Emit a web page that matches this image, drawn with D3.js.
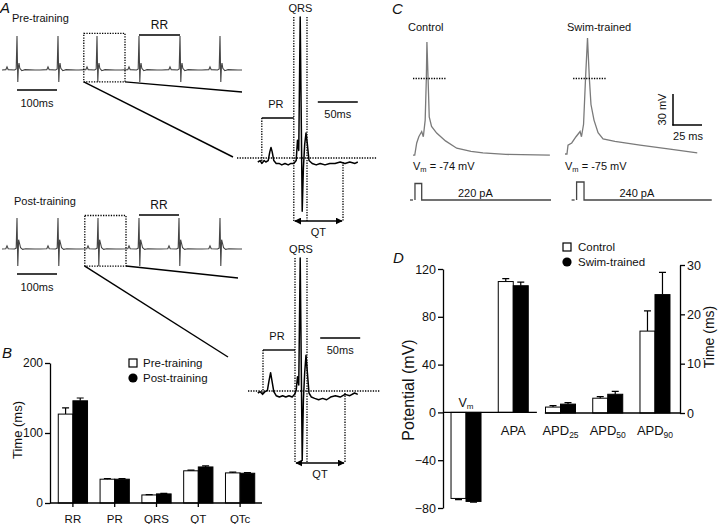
<!DOCTYPE html>
<html>
<head>
<meta charset="utf-8">
<script src="https://cdn.jsdelivr.net/npm/d3@7"></script>
<style>
body { margin: 0; background: #fff; }
svg { display: block; font-family: "Liberation Sans", Arial, Helvetica, sans-serif; }
</style>
</head>
<body>
<div id="chart"></div>
<script>
// ---------- data: panel A (ECG) ----------
// R-peak times (ms) of the raw traces
var beatsPre = [37.5, 140, 237.5, 342.5, 445, 545];
var beatsPost = [37.5, 140, 240, 342.5, 442.5, 545];
// one beat, [ms from R, amplitude relative to R]
var beatPre = [[-45,0],[-28,0.01],[-25,0.09],[-22,0.01],[-6,0],[-2,0.03],[0,1],[2,-0.35],[3.5,0.08],[5,0.2],[7,0.05],[12,-0.02],[20,0.01],[45,0]];
var beatPost = [[-45,0],[-28,0.01],[-25,0.1],[-22,0.01],[-6,0],[-2,0.03],[0,1],[2,-0.55],[4,0.3],[6,0.2],[9,0.04],[14,-0.01],[22,0.01],[45,0]];
// enlarged single beats
var zoomPre = [[-54,0],[-51,0.01],[-49,-0.01],[-46,0.01],[-44,0],[-41,0.01],[-39,0.07],[-37.5,0.1],[-36,0.07],[-34,0.01],[-31,-0.01],[-27.5,-0.01],[-24,-0.02],[-20,-0.01],[-16,-0.02],[-12.5,-0.01],[-9,-0.01],[-6,0.01],[-4.4,0.15],[-2.8,0.08],[-1,1],[1.5,-0.34],[3,-0.04],[4.6,0.12],[6.25,0.2],[8,0.12],[10,0.01],[14,-0.01],[19,-0.02],[24,-0.01],[30,-0.02],[36,-0.01],[42.5,-0.01],[49,0],[55,-0.01],[61,0],[67.5,-0.01],[71,0]];
var zoomPost = [[-54,0],[-51,0.01],[-48,-0.01],[-45,0.01],[-42,0.02],[-40,0.09],[-38,0.15],[-36,0.08],[-34,0.01],[-31,-0.02],[-27,-0.03],[-23,-0.02],[-19,-0.03],[-15,-0.02],[-11,-0.03],[-8,-0.01],[-6,0.02],[-4.4,0.12],[-2.8,0.06],[-1,1],[1.5,-0.5],[3,-0.05],[4.6,0.15],[6.25,0.28],[8,0.15],[10,0],[13,-0.03],[17,-0.04],[22,-0.05],[27,-0.04],[32,-0.05],[37,-0.03],[43,-0.02],[49,-0.03],[55,-0.01],[61,-0.02],[67,0],[71,-0.01]];

// ---------- data: panel B ----------
var bCats = ["RR", "PR", "QRS", "QT", "QTc"];
var bPre = [127, 34, 11.5, 46, 43];
var bPreErr = [9, 1, 0.6, 1, 1];
var bPost = [146, 34, 13, 51.5, 42.5];
var bPostErr = [4, 1, 0.7, 1.5, 0.8];
var bTicks = [0, 100, 200];

// ---------- data: panel C (action potentials, ms / mV) ----------
var apControl = [[0,-73.6],[1.5,-73.6],[3.2,-62],[5,-56],[7.5,-51],[8.9,-56],[10.5,-40],[11.5,0],[12,35],[13,0],[14,-37],[16,-46],[20.4,-52.5],[28,-60],[37.7,-67],[50,-70],[60.3,-71.5],[80,-73],[118,-73.6]];
var apSwim = [[0,-72.6],[1.7,-72.6],[2.6,-64],[5.8,-62],[9.5,-56],[13,-51],[14.2,-56],[16,-44],[17.7,0],[19.4,39],[21,0],[22.4,-25],[25,-40],[28.5,-52],[32.8,-58],[43,-60.5],[64.7,-64],[90.5,-68],[114,-71.5]];
// injected current (ms / pA)
var stimControl = [[1.7,0],[1.7,220],[7.5,220],[7.5,0],[119,0]];
var stimSwim = [[10,0],[10,240],[16.4,240],[16.4,0],[126.5,0]];
var vmLabels = ["-74 mV", "-75 mV"];
var stimLabels = ["220 pA", "240 pA"];

// ---------- data: panel D ----------
var dCats = ["Vm", "APA", "APD25", "APD50", "APD90"];
var dControl = [-72, 109.5, 1.2, 3.0, 16.6];
var dControlErr = [1, 2.5, 0.3, 0.3, 4.1];
var dSwim = [-74.5, 106, 1.8, 3.8, 24];
var dSwimErr = [0.5, 3, 0.3, 0.6, 4.5];
var dLeftTicks = [-80, -40, 0, 40, 80, 120];
var dRightTicks = [0, 10, 20, 30];

var svg = d3.select("#chart").append("svg")
	.attr("width", 720)
	.attr("height", 524);

function label(x, y, s, size, anchor, opts) {
	var t = svg.append("text")
		.attr("x", x).attr("y", y)
		.attr("font-size", size)
		.attr("text-anchor", anchor || "start")
		.attr("fill", "#111")
		.text(s);
	if (opts && opts.italic) t.attr("font-style", "italic");
	if (opts && opts.rotate) {
		t.attr("x", null).attr("y", null)
			.attr("transform", "translate(" + x + "," + y + ") rotate(-90)");
	}
	return t;
}
function seg(x1, y1, x2, y2, w, color, dash) {
	var l = svg.append("line")
		.attr("x1", x1).attr("y1", y1).attr("x2", x2).attr("y2", y2)
		.attr("stroke", color || "#000")
		.attr("stroke-width", w || 1.3);
	if (dash) l.attr("stroke-dasharray", dash);
	return l;
}
var DOT = "1.3,1.3";

// arrow marker for QT
svg.append("defs").append("marker")
	.attr("id", "arr")
	.attr("viewBox", "0 0 10 10")
	.attr("refX", 9).attr("refY", 5)
	.attr("markerWidth", 7).attr("markerHeight", 7)
	.attr("markerUnits", "userSpaceOnUse")
	.attr("orient", "auto-start-reverse")
	.append("path").attr("d", "M0,0 L10,5 L0,10 z").attr("fill", "#000");

// ================= A =================
label(0, 13, "A", 15, "start", {italic: true});

function buildTrace(beats, tmpl) {
	var pts = [[0, 0]];
	beats.forEach(function (b) {
		tmpl.forEach(function (p) { pts.push([b + p[0], p[1]]); });
	});
	pts.push([600, 0]);
	return pts.filter(function (p) { return p[0] >= 0 && p[0] <= 600; })
		.sort(function (a, b) { return a[0] - b[0]; });
}

var xs = d3.scaleLinear().domain([0, 600]).range([2, 242]);
var ysPre = d3.scaleLinear().domain([0, 1]).range([70, 36]);
var ysPost = d3.scaleLinear().domain([0, 1]).range([249, 218]);

function smallEcg(beats, tmpl, ys, cfg) {
	var line = d3.line().x(function (d) { return xs(d[0]); }).y(function (d) { return ys(d[1]); });
	svg.append("path")
		.attr("d", line(buildTrace(beats, tmpl)))
		.attr("fill", "none")
		.attr("stroke", "#444")
		.attr("stroke-width", 1.1);
	label(cfg.nameX, cfg.nameY, cfg.name, 11);
	// RR bar between beats 4 and 5
	var rrY = cfg.rrY;
	seg(xs(beats[3]), rrY, xs(beats[4]), rrY, 1.5);
	label((xs(beats[3]) + xs(beats[4])) / 2, rrY - 6, "RR", 12, "middle");
	// 100 ms scale bar
	seg(xs(beats[0]), cfg.sbY, xs(beats[0] + 100), cfg.sbY, 1.5);
	label(xs(beats[0] + 50), cfg.sbY + 17, "100ms", 11, "middle");
	// dotted box round beat 3
	var bx0 = xs(beats[2] - 33), bx1 = xs(beats[2] + 70);
	var by0 = ys(1.08), by1 = ys(cfg.boxLow);
	svg.append("rect")
		.attr("x", bx0).attr("y", by0)
		.attr("width", bx1 - bx0).attr("height", by1 - by0)
		.attr("fill", "none").attr("stroke", "#000")
		.attr("stroke-width", 1.3).attr("stroke-dasharray", DOT);
	seg(bx0, by1, cfg.l1[0], cfg.l1[1], 1.4);
	seg(bx1, by1, cfg.l2[0], cfg.l2[1], 1.4);
}
smallEcg(beatsPre, beatPre, ysPre, {name: "Pre-training", nameX: 12, nameY: 21.5, rrY: 35, sbY: 90, boxLow: -0.35, l1: [233, 157], l2: [242, 92]});
smallEcg(beatsPost, beatPost, ysPost, {name: "Post-training", nameX: 14, nameY: 205, rrY: 215, sbY: 274, boxLow: -0.55, l1: [228, 357], l2: [238, 278]});

var zx = d3.scaleLinear().domain([0, 50]).range([301, 341]);
function zoomEcg(data, zy, cfg) {
	var line = d3.line().x(function (d) { return zx(d[0]); }).y(function (d) { return zy(d[1]); });
	var base = zy(0);
	// reference baseline
	seg(cfg.baseX0, cfg.baseY, cfg.baseX1, cfg.baseY, 1.3, "#000", DOT);
	// QRS window
	var q0 = zx(cfg.q0), q1 = zx(cfg.q1), qt = zx(cfg.qt), pr = zx(cfg.pr);
	var top = zy(1.0), arrowY = cfg.arrowY;
	seg(q0, top, q0, arrowY, 1.3, "#000", DOT);
	seg(q1, top, q1, arrowY, 1.3, "#000", DOT);
	label((q0 + q1) / 2, top - 5, "QRS", 11, "middle");
	// PR bracket
	seg(pr, cfg.prY, pr, base, 1.3, "#000", DOT);
	seg(pr, cfg.prY, q0, cfg.prY, 1.4);
	label((pr + q0) / 2 - 2, cfg.prY - 10, "PR", 11, "middle");
	// QT
	seg(qt, base, qt, arrowY, 1.3, "#000", DOT);
	svg.append("line")
		.attr("x1", q0 + 1).attr("y1", arrowY).attr("x2", qt - 1).attr("y2", arrowY)
		.attr("stroke", "#000").attr("stroke-width", 1.6)
		.attr("marker-start", "url(#arr)").attr("marker-end", "url(#arr)");
	label((q0 + qt) / 2, arrowY + 15, "QT", 11, "middle");
	// 50 ms bar
	seg(zx(cfg.sb), cfg.sbY, zx(cfg.sb + 50), cfg.sbY, 1.5);
	label(zx(cfg.sb + 25), cfg.sbY + 16, "50ms", 11, "middle");
	// trace
	svg.append("path")
		.attr("d", line(data))
		.attr("fill", "none")
		.attr("stroke", "#000")
		.attr("stroke-width", 1.5)
		.attr("stroke-linejoin", "round");
}
zoomEcg(zoomPre, d3.scaleLinear().domain([0, 1]).range([162, 17]),
	{baseX0: 237, baseX1: 377, baseY: 158, q0: -9, q1: 7.5, qt: 52.5, pr: -49, prY: 118, arrowY: 221, sb: 21, sbY: 102});
zoomEcg(zoomPost, d3.scaleLinear().domain([0, 1]).range([393, 258]),
	{baseX0: 248, baseX1: 380, baseY: 391, q0: -7.5, q1: 7.5, qt: 55, pr: -47.5, prY: 350, arrowY: 463, sb: 24, sbY: 338});

// ================= B =================
label(2, 358, "B", 15, "start", {italic: true});
var xB = d3.scaleBand().domain(bCats).range([52, 261]).paddingInner(0.3).paddingOuter(0.15);
var yB = d3.scaleLinear().domain([0, 200]).range([503, 363]);
var bw = xB.bandwidth() / 2;

var gB = svg.append("g");
gB.append("g").attr("transform", "translate(50,0)")
	.call(d3.axisLeft(yB).tickValues(bTicks).tickSize(5).tickSizeOuter(0).tickPadding(2))
	.call(function (g) {
		g.selectAll("line,path").attr("stroke-width", 1.3);
		g.selectAll("text").attr("font-size", 12).attr("fill", "#111").attr("font-family", null);
	});
gB.append("g").attr("transform", "translate(0,503)")
	.call(d3.axisBottom(xB).tickSize(4).tickSizeOuter(0).tickPadding(8))
	.call(function (g) {
		g.select(".domain").remove();
		g.selectAll("line").attr("stroke-width", 1.3);
		g.selectAll("text").attr("font-size", 11.5).attr("fill", "#111").attr("font-family", null);
	});
seg(50, 503, 262, 503, 1.4);
label(22, 430, "Time (ms)", 13, "middle", {rotate: true});

function barsB(vals, errs, off, fill) {
	gB.selectAll(null).data(bCats).enter().append("rect")
		.attr("x", function (d) { return xB(d) + off; })
		.attr("y", function (d, i) { return yB(vals[i]); })
		.attr("width", bw)
		.attr("height", function (d, i) { return yB(0) - yB(vals[i]); })
		.attr("fill", fill).attr("stroke", "#000").attr("stroke-width", 1);
	gB.selectAll(null).data(bCats).enter().append("path")
		.attr("d", function (d, i) {
			var cx = xB(d) + off + bw / 2, y0 = yB(vals[i]), y1 = yB(vals[i] + errs[i]);
			return "M" + cx + "," + y0 + "V" + y1 + "M" + (cx - 3.5) + "," + y1 + "H" + (cx + 3.5);
		})
		.attr("stroke", "#000").attr("stroke-width", 1.2).attr("fill", "none");
}
barsB(bPre, bPreErr, 0, "#fff");
barsB(bPost, bPostErr, bw, "#000");

svg.append("rect").attr("x", 129).attr("y", 359).attr("width", 8).attr("height", 8)
	.attr("fill", "#fff").attr("stroke", "#000").attr("stroke-width", 1.2);
label(143, 367, "Pre-training", 11.5);
svg.append("circle").attr("cx", 133).attr("cy", 378).attr("r", 4.6).attr("fill", "#000");
label(143, 382, "Post-training", 11.5);

// ================= C =================
label(392, 14, "C", 15, "start", {italic: true});
var yAP = d3.scaleLinear().domain([0, 30]).range([78.5, 47.3]);
var yStim = d3.scaleLinear().domain([0, 220]).range([200, 183.5]);
function apPanel(data, stim, x0, name, vm, stimText, dashT) {
	var xAP = d3.scaleLinear().domain([0, 25]).range([x0, x0 + 29]);
	var line = d3.line().x(function (d) { return xAP(d[0]); }).y(function (d) { return yAP(d[1]); });
	label(x0 - 5 + (name === "Control" ? 0 : 7), 31, name, 11);
	svg.append("path").attr("d", line(data))
		.attr("fill", "none").attr("stroke", "#7a7a7a").attr("stroke-width", 1.3);
	// 0 mV reference
	seg(xAP(dashT[0]), yAP(0), xAP(dashT[1]), yAP(0), 1.3, "#000", DOT);
	var vt = svg.append("text").attr("x", x0).attr("y", 170).attr("font-size", 11).attr("fill", "#111");
	vt.append("tspan").text("V");
	vt.append("tspan").attr("font-size", 7.5).attr("dy", 2).text("m");
	vt.append("tspan").attr("dy", -2).text(" = " + vm);
	// stimulus
	var sline = d3.line().x(function (d) { return xAP(d[0]); }).y(function (d) { return yStim(d[1]); });
	svg.append("path").attr("d", sline(stim))
		.attr("fill", "none").attr("stroke", "#444").attr("stroke-width", 1.3);
	seg(xAP(stim[0][0]) - 5, 200, xAP(stim[0][0]) - 2, 200, 1.3, "#444");
	var last = stim[stim.length - 1][0];
	label((xAP(stim[3][0]) + xAP(last)) / 2 - 11, 196.5, stimText, 11, "middle");
}
apPanel(apControl, stimControl, 413, "Control", vmLabels[0], stimLabels[0], [0, 29]);
apPanel(apSwim, stimSwim, 565, "Swim-trained", vmLabels[1], stimLabels[1], [7, 36]);

// scale bar
seg(673, 94, 673, 125.5, 1.5);
seg(672.3, 125, 702, 125, 1.5);
label(666, 109.5, "30 mV", 11, "middle", {rotate: true});
label(688, 140, "25 ms", 11, "middle");

// ================= D =================
label(393, 263, "D", 15, "start", {italic: true});
var xD = d3.scaleBand().domain(dCats).range([442.4, 678.6]).paddingInner(0.365).paddingOuter(0.1825);
var yL = d3.scaleLinear().domain([-80, 120]).range([508, 269]);
var yR = d3.scaleLinear().domain([0, 30]).range([413, 265]);
var dbw = xD.bandwidth() / 2;
function yD(i, v) { return i < 2 ? yL(v) : yR(v); }

var gD = svg.append("g");
gD.append("g").attr("transform", "translate(443,0)")
	.call(d3.axisLeft(yL).tickValues(dLeftTicks).tickSize(5).tickSizeOuter(0).tickPadding(2))
	.call(function (g) {
		g.selectAll("line,path").attr("stroke-width", 1.3);
		g.selectAll("text").attr("font-size", 12.5).attr("fill", "#111").attr("font-family", null);
	});
gD.append("g").attr("transform", "translate(680,0)")
	.call(d3.axisRight(yR).tickValues(dRightTicks).tickSize(5).tickSizeOuter(0).tickPadding(2))
	.call(function (g) {
		g.selectAll("line,path").attr("stroke-width", 1.3);
		g.selectAll("text").attr("font-size", 12.5).attr("fill", "#111").attr("font-family", null);
	});
var step = xD.step();
seg(443, yL(0), xD("APA") + xD.bandwidth() + (step - xD.bandwidth()) / 2, yL(0), 1.4);
seg(xD("APD25") - (step - xD.bandwidth()) / 2 + 8, yR(0), 680, yR(0), 1.4);
label(414, 390, "Potential (mV)", 16, "middle", {rotate: true});
label(714, 337, "Time (ms)", 14, "middle", {rotate: true});

function barsD(vals, errs, off, fill) {
	gD.selectAll(null).data(dCats).enter().append("rect")
		.attr("x", function (d) { return xD(d) + off; })
		.attr("y", function (d, i) { return Math.min(yD(i, vals[i]), yD(i, 0)); })
		.attr("width", dbw)
		.attr("height", function (d, i) { return Math.abs(yD(i, 0) - yD(i, vals[i])); })
		.attr("fill", fill).attr("stroke", "#000").attr("stroke-width", 1);
	gD.selectAll(null).data(dCats).enter().append("path")
		.attr("d", function (d, i) {
			var s = vals[i] < 0 ? -1 : 1;
			var cx = xD(d) + off + dbw / 2, y0 = yD(i, vals[i]), y1 = yD(i, vals[i] + s * errs[i]);
			return "M" + cx + "," + y0 + "V" + y1 + "M" + (cx - 3.5) + "," + y1 + "H" + (cx + 3.5);
		})
		.attr("stroke", "#000").attr("stroke-width", 1.2).attr("fill", "none");
}
barsD(dControl, dControlErr, 0, "#fff");
barsD(dSwim, dSwimErr, dbw, "#000");

// category labels
dCats.forEach(function (c, i) {
	var cx = xD(c) + xD.bandwidth() / 2;
	var y = dControl[i] < 0 ? 407 : 435;
	var t = svg.append("text").attr("x", cx).attr("y", y)
		.attr("text-anchor", "middle").attr("fill", "#111").attr("font-size", 13);
	if (c === "Vm") {
		t.attr("font-size", 12.5);
		t.append("tspan").text("V");
		t.append("tspan").attr("font-size", 8).attr("dy", 2).text("m");
	} else if (/\d/.test(c)) {
		t.append("tspan").text(c.replace(/\d+/, ""));
		t.append("tspan").attr("font-size", 8.5).attr("dy", 3).text(c.match(/\d+/)[0]);
	} else {
		t.text(c);
	}
});

svg.append("rect").attr("x", 563).attr("y", 243).attr("width", 8).attr("height", 8)
	.attr("fill", "#fff").attr("stroke", "#000").attr("stroke-width", 1.2);
label(578, 251, "Control", 11.5);
svg.append("circle").attr("cx", 567).attr("cy", 262).attr("r", 4.6).attr("fill", "#000");
label(578, 266, "Swim-trained", 11.5);
</script>
</body>
</html>
